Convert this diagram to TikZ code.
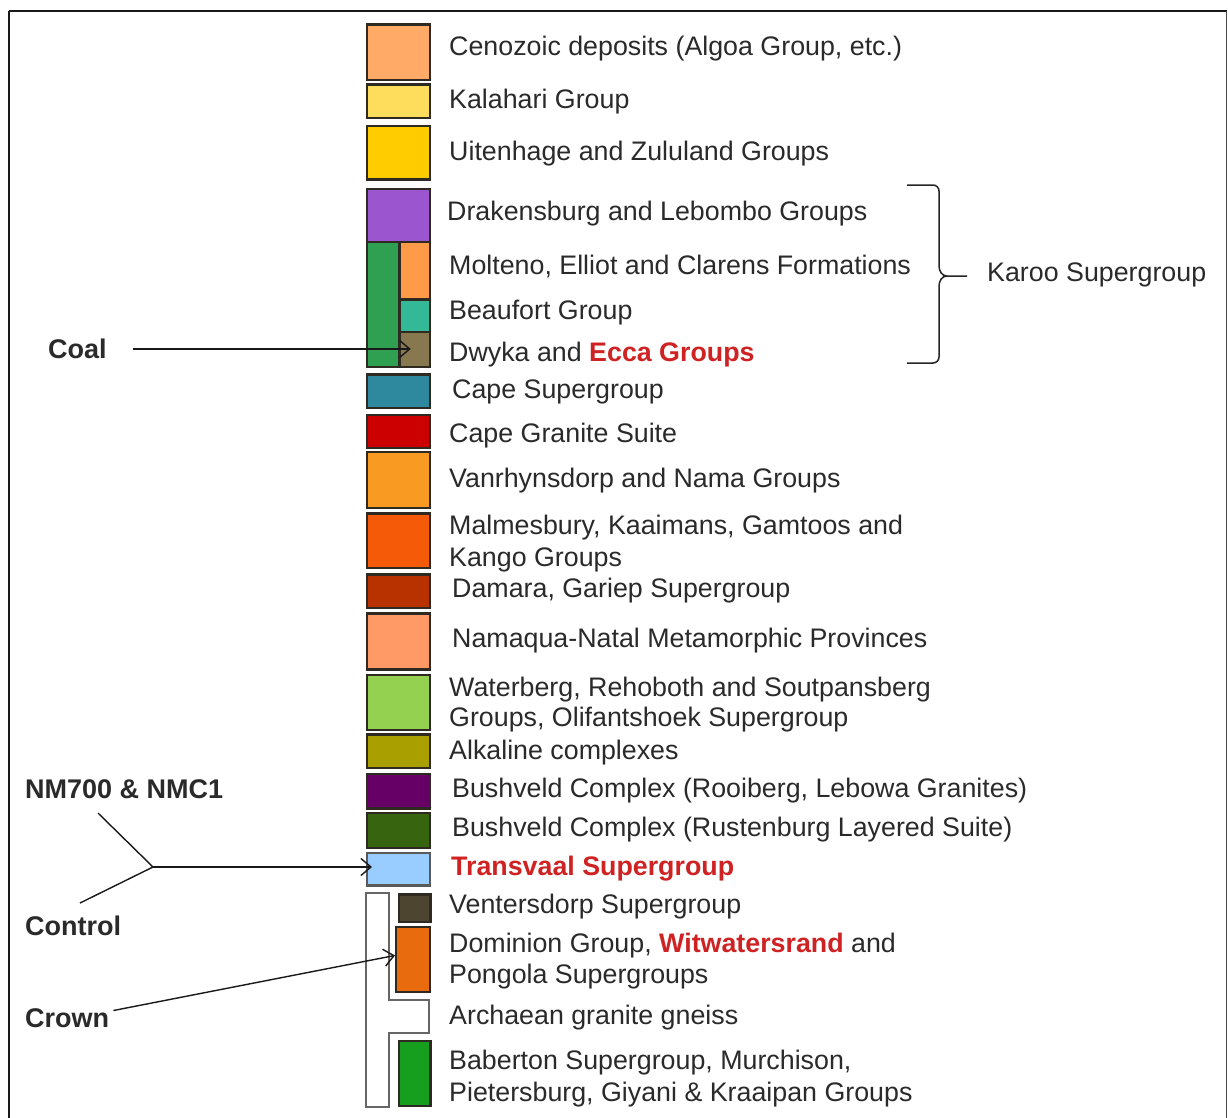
\documentclass[tikz,border=0pt]{standalone}
\usepackage{fontspec}
\setmainfont{Liberation Sans}
\usetikzlibrary{arrows.meta}
\definecolor{hl}{HTML}{CF2222}
\definecolor{txt}{HTML}{2A2A2A}
\definecolor{cCeno}{HTML}{FFAA66}
\definecolor{cKala}{HTML}{FFDD5C}
\definecolor{cUite}{HTML}{FFCC00}
\definecolor{cDrak}{HTML}{9B55CF}
\definecolor{cGreen}{HTML}{2FA052}
\definecolor{cMolt}{HTML}{FF9A48}
\definecolor{cBeau}{HTML}{33B898}
\definecolor{cDwyk}{HTML}{877850}
\definecolor{cCape}{HTML}{2E889E}
\definecolor{cCgra}{HTML}{CC0000}
\definecolor{cVanr}{HTML}{F99A22}
\definecolor{cMalm}{HTML}{F55A08}
\definecolor{cDama}{HTML}{B83200}
\definecolor{cNama}{HTML}{FF9966}
\definecolor{cWate}{HTML}{94D150}
\definecolor{cAlka}{HTML}{A9A000}
\definecolor{cRooi}{HTML}{660066}
\definecolor{cRust}{HTML}{37650F}
\definecolor{cTran}{HTML}{99CCFF}
\definecolor{cVent}{HTML}{4E4530}
\definecolor{cDomi}{HTML}{E86C0E}
\definecolor{cBabe}{HTML}{169E1E}
\definecolor{edge}{HTML}{2E2A22}
\begin{document}
\begin{tikzpicture}[x=1pt,y=-1pt,
  box/.style={draw=edge, line width=2.2pt, inner sep=0pt, anchor=north west},
  lbl/.style={anchor=base west, inner sep=0pt, text=txt, font=\fontsize{26.8}{31}\selectfont},
  side/.style={anchor=base west, inner sep=0pt, text=txt, font=\fontsize{27}{31}\selectfont\bfseries},
  arr/.style={-{Straight Barb[length=10pt,width=17pt]}, line width=1.4pt, draw=black!90},
  ln/.style={line width=1.4pt, draw=black!90}]
\useasboundingbox (0,0) rectangle (1228,1117);
\clip (0,0) rectangle (1228,1117);
\fill[white] (0,0) rectangle (1228,1117);
% frame
\draw[line width=2pt, draw=black!90] (9,11) -- (1226.5,11);
\draw[line width=2.5pt, draw=black!90] (9,11) -- (9,1130);
\draw[line width=1.5pt, draw=black!70] (1226.5,11) -- (1226.5,1130);

% column boxes
\node[box, fill=cCeno, minimum width=63pt, minimum height=55.7pt] (ceno) at (366,23.3) {};
\node[box, fill=cKala, minimum width=63pt, minimum height=33.4pt] (kala) at (366,83.3) {};
\node[box, fill=cUite, minimum width=63pt, minimum height=53.3pt] (uite) at (366,125) {};
\node[box, fill=cDrak, minimum width=63pt, minimum height=53pt] (drak) at (366,187.7) {};
\node[box, fill=cGreen, minimum width=32.3pt, minimum height=125.3pt] (ecca) at (366,240.7) {};
\node[box, fill=cMolt, minimum width=30.7pt, minimum height=57.6pt] (molt) at (398.3,240.7) {};
\node[box, fill=cBeau, minimum width=30.7pt, minimum height=32.4pt] (beau) at (398.3,298.3) {};
\node[box, fill=cDwyk, minimum width=30.7pt, minimum height=35.3pt] (dwyk) at (398.3,330.7) {};
\node[box, fill=cCape, minimum width=63pt, minimum height=33.7pt] (cape) at (366,373.3) {};
\node[box, fill=cCgra, minimum width=63pt, minimum height=32.7pt] (cgra) at (366,414) {};
\node[box, fill=cVanr, minimum width=63pt, minimum height=55.7pt] (vanr) at (366,451) {};
\node[box, fill=cMalm, minimum width=63pt, minimum height=54.4pt] (malm) at (366,512.3) {};
\node[box, fill=cDama, minimum width=63pt, minimum height=33.4pt] (dama) at (366,573.3) {};
\node[box, fill=cNama, minimum width=63pt, minimum height=56pt] (nama) at (366,612.3) {};
\node[box, fill=cWate, minimum width=63pt, minimum height=55pt] (wate) at (366,674) {};
\node[box, fill=cAlka, minimum width=63pt, minimum height=33.4pt] (alka) at (366,733.3) {};
\node[box, fill=cRooi, minimum width=63pt, minimum height=34.6pt] (rooi) at (366,772.7) {};
\node[box, fill=cRust, minimum width=63pt, minimum height=35pt] (rust) at (366,811.7) {};
\node[box, fill=cTran, draw=black!65, minimum width=63pt, minimum height=32.6pt] (tran) at (366,851.7) {};
% T-shaped granite gneiss outline
\draw[line width=1.8pt, draw=black!60, fill=white]
  (366,892.7) -- (389.3,892.7) -- (389.3,1000) -- (429.3,1000) -- (429.3,1032.7)
  -- (389.3,1032.7) -- (389.3,1106.7) -- (366,1106.7) -- cycle;
\node[box, fill=cVent, minimum width=31.6pt, minimum height=27.4pt] (vent) at (397.7,893.3) {};
\node[box, fill=cDomi, minimum width=34pt, minimum height=64.7pt] (domi) at (395,926) {};
\node[box, fill=cBabe, minimum width=31.8pt, minimum height=65pt] (babe) at (397.5,1040) {};

% labels
\node[lbl] (tceno) at (449,55.6) {Cenozoic deposits (Algoa Group, etc.)};
\node[lbl] (tkala) at (449,108.6) {Kalahari Group};
\node[lbl] (tuite) at (449,160.6) {Uitenhage and Zululand Groups};
\node[lbl] (tdrak) at (447,220.6) {Drakensburg and Lebombo Groups};
\node[lbl] (tmolt) at (449,274.6) {Molteno, Elliot and Clarens Formations};
\node[lbl] (tbeau) at (449,319.6) {Beaufort Group};
\node[lbl] (tdwyk) at (449,361.6) {Dwyka and \textcolor{hl}{\bfseries Ecca Groups}};
\node[lbl] (tcape) at (452,398.6) {Cape Supergroup};
\node[lbl] (tcgra) at (449,442.6) {Cape Granite Suite};
\node[lbl] (tvanr) at (449,487.6) {Vanrhynsdorp and Nama Groups};
\node[lbl] (tmalma) at (449,534.6) {Malmesbury, Kaaimans, Gamtoos and};
\node[lbl] (tmalmb) at (449,566.6) {Kango Groups};
\node[lbl] (tdama) at (452,597.6) {Damara, Gariep Supergroup};
\node[lbl] (tnama) at (452,647.6) {Namaqua-Natal Metamorphic Provinces};
\node[lbl] (twatea) at (449,696.6) {Waterberg, Rehoboth and Soutpansberg};
\node[lbl] (twateb) at (449,726.6) {Groups, Olifantshoek Supergroup};
\node[lbl] (talka) at (449,759.6) {Alkaline complexes};
\node[lbl] (trooi) at (452,797.6) {Bushveld Complex (Rooiberg, Lebowa Granites)};
\node[lbl] (trust) at (452,836.6) {Bushveld Complex (Rustenburg Layered Suite)};
\node[lbl, text=hl, font=\fontsize{26.8}{31}\selectfont\bfseries] (ttran) at (451,875.6) {Transvaal Supergroup};
\node[lbl] (tvent) at (449,913.6) {Ventersdorp Supergroup};
\node[lbl] (tdomia) at (449,952.6) {Dominion Group, \textcolor{hl}{\bfseries Witwatersrand} and};
\node[lbl] (tdomib) at (449,983.6) {Pongola Supergroups};
\node[lbl] (tarch) at (449,1024.6) {Archaean granite gneiss};
\node[lbl] (tbabea) at (449,1069.6) {Baberton Supergroup, Murchison,};
\node[lbl] (tbabeb) at (449,1101.6) {Pietersburg, Giyani \& Kraaipan Groups};

% Karoo brace
\node[lbl] (karoo) at (987,281.6) {Karoo Supergroup};
\draw[line width=1.5pt, draw=black!85]
  (907,185) -- (933,185) to[out=0,in=90] (939,191) -- (939,266)
  to[out=270,in=180] (947,276) -- (967,276);
\draw[line width=1.5pt, draw=black!85]
  (947,276) to[out=180,in=90] (939,286) -- (939,357)
  to[out=270,in=0] (933,363) -- (907,363);

% side labels and arrows
\node[side] (coal) at (48,358.6) {Coal};
\draw[arr] ([xshift=26pt]coal.east) -- ([xshift=-4pt]coal.east -| dwyk.center);

\node[side] (nm) at (25,798.8) {NM700 \& NMC1};
\node[side] (control) at (25,935.8) {Control};
\node[side] (crown) at (25,1027.8) {Crown};
\coordinate (jn) at (153,867);
\coordinate (nmend) at (98,813);
\coordinate (ctend) at (80,903);
\draw[ln] (nmend) -- (jn) -- (ctend);
\draw[arr] (jn) -- ([xshift=6pt]tran.west |- jn);
\draw[arr] ([xshift=4pt,yshift=8pt]crown.east) -- ([yshift=4pt]domi.west);
\end{tikzpicture}
\end{document}
